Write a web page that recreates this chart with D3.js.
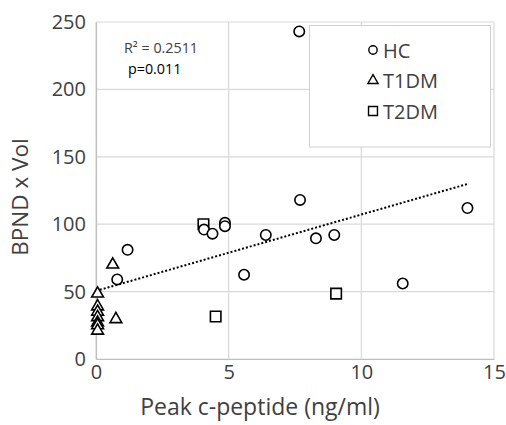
<!DOCTYPE html>
<html>
<head>
<meta charset="utf-8">
<script src="https://cdn.jsdelivr.net/npm/d3@7"></script>
<style>
  body { margin: 0; background: white; }
  text { font-family: "Open Sans", sans-serif; }
</style>
</head>
<body>
<div id="chart"></div>
<script>
// Datos
const hcX = [7.66, 7.69, 14.0, 4.07, 4.39, 4.86, 4.86, 6.4, 8.29, 8.98, 1.19, 0.8, 5.58, 11.56];
const hcY = [243, 118, 112, 96, 93, 101, 98.5, 92, 89.5, 92, 81, 59, 62.5, 56];
const t1X = [0.06, 0.06, 0.06, 0.06, 0.06, 0.06, 0.06, 0.63, 0.75];
const t1Y = [48.5, 39, 35, 31, 27, 25, 21, 70, 29.5];
const t2X = [4.05, 9.05, 4.51];
const t2Y = [100, 48.5, 31.5];
const trendX = [0, 14.03];
const trendY = [50.5, 130];
const xTicks = [0, 5, 10, 15];
const yTicks = [0, 50, 100, 150, 200, 250];
const legendLabels = ["HC", "T1DM", "T2DM"];

const width = 506;
const height = 425;
const margin = { top: 22, right: 12, bottom: 66, left: 96 };
const w = width - margin.left - margin.right;
const h = height - margin.top - margin.bottom;

const svg = d3.select("#chart")
    .append("svg")
    .attr("width", width)
    .attr("height", height);

svg.append("rect")
    .attr("width", width)
    .attr("height", height)
    .attr("fill", "white");

const g = svg.append("g")
    .attr("transform", `translate(${margin.left},${margin.top})`);

const x = d3.scaleLinear().domain([0, 15]).range([0, w]);
const y = d3.scaleLinear().domain([0, 250]).range([h, 0]);

// Rejilla
g.selectAll(".gx").data(xTicks).enter().append("line")
    .attr("x1", d => x(d)).attr("x2", d => x(d))
    .attr("y1", 0).attr("y2", h)
    .attr("stroke", "#d9d9d9").attr("stroke-width", 1.2);
g.selectAll(".gy").data(yTicks).enter().append("line")
    .attr("x1", 0).attr("x2", w)
    .attr("y1", d => y(d)).attr("y2", d => y(d))
    .attr("stroke", "#d9d9d9").attr("stroke-width", 1.2);

// Ejes (solo etiquetas)
const xAxis = g.append("g")
    .attr("transform", `translate(0,${h})`)
    .call(d3.axisBottom(x).tickValues(xTicks).tickSize(0).tickPadding(6));
const yAxis = g.append("g")
    .call(d3.axisLeft(y).tickValues(yTicks).tickSize(0).tickPadding(10));
[xAxis, yAxis].forEach(a => {
    a.select(".domain").attr("stroke", "#bfbfbf").attr("stroke-width", 1.2);
    a.selectAll("text")
        .style("font-family", "'Open Sans', sans-serif")
        .style("font-size", "20px")
        .attr("fill", "#404040");
});

// Línea de tendencia
g.append("line")
    .attr("x1", x(trendX[0])).attr("y1", y(trendY[0]))
    .attr("x2", x(trendX[1])).attr("y2", y(trendY[1]))
    .attr("stroke", "black")
    .attr("stroke-width", 2)
    .attr("stroke-dasharray", "2,2");

// Marcadores
const mk = { fill: "white", stroke: "black", sw: 1.6 };
const circle = d3.symbol().type(d3.symbolCircle).size(85);
const tri = d3.symbol().type(d3.symbolTriangle).size(60);
const sq = d3.symbol().type(d3.symbolSquare).size(110);

function drawSeries(xs, ys, sym) {
    g.append("g").selectAll("path").data(xs).enter().append("path")
        .attr("d", sym)
        .attr("transform", (d, i) => `translate(${x(d)},${y(ys[i])})`)
        .attr("fill", mk.fill)
        .attr("stroke", mk.stroke)
        .attr("stroke-width", mk.sw);
}
drawSeries(t1X, t1Y, tri);
drawSeries(t2X, t2Y, sq);
drawSeries(hcX, hcY, circle);

// Anotaciones
g.append("text")
    .attr("x", 28).attr("y", 31)
    .style("font-size", "14.3px")
    .attr("fill", "#404040")
    .text("R² = 0.2511");
g.append("text")
    .attr("x", 32).attr("y", 52)
    .style("font-size", "14.3px")
    .attr("fill", "black")
    .text("p=0.011");

// Leyenda
const lg = svg.append("g");
lg.append("rect")
    .attr("x", 309.5).attr("y", 25.5)
    .attr("width", 181).attr("height", 121.5)
    .attr("fill", "white")
    .attr("stroke", "#d0d0d0")
    .attr("stroke-width", 1);
const legendSyms = [
    d3.symbol().type(d3.symbolCircle).size(55),
    d3.symbol().type(d3.symbolTriangle).size(45),
    d3.symbol().type(d3.symbolSquare).size(80)
];
legendLabels.forEach((lab, i) => {
    const cy = 50 + i * 30.5;
    lg.append("path")
        .attr("d", legendSyms[i])
        .attr("transform", `translate(373,${cy})`)
        .attr("fill", "white").attr("stroke", "black").attr("stroke-width", 1.4);
    lg.append("text")
        .attr("x", 383).attr("y", cy + 7.5)
        .style("font-size", "20px")
        .attr("fill", "#404040")
        .text(lab);
});

// Títulos de ejes
svg.append("text")
    .attr("text-anchor", "middle")
    .attr("x", 260)
    .attr("y", 415)
    .style("font-size", "23px")
    .attr("fill", "#404040")
    .text("Peak c-peptide (ng/ml)");
svg.append("text")
    .attr("text-anchor", "middle")
    .attr("transform", `translate(28,197) rotate(-90)`)
    .style("font-size", "22.5px")
    .attr("fill", "#404040")
    .text("BPND x Vol");
</script>
</body>
</html>
